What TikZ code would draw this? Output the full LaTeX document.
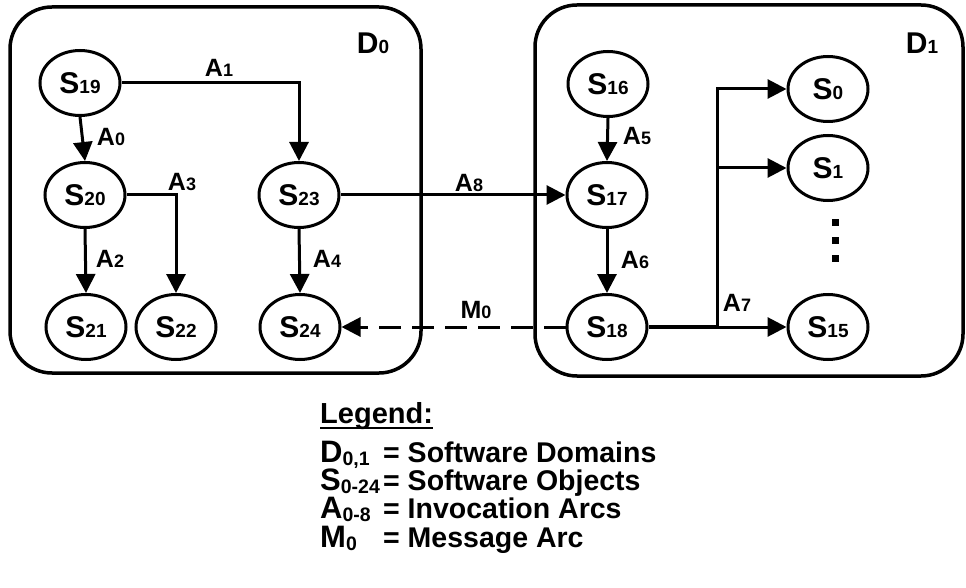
\documentclass[tikz,border=0pt]{standalone}
\usepackage{fontspec}
\setmainfont{Liberation Sans}
\usetikzlibrary{shapes.geometric,arrows.meta}
\newcommand\snode[2]{{\fontsize{30}{30}\selectfont #1}{\fontsize{19}{19}\selectfont #2}}
\newcommand\alab[2]{{\fontsize{25}{25}\selectfont #1}{\fontsize{18}{18}\selectfont #2}}
\newcommand\legline[3]{\makebox[63pt][l]{{\fontsize{31}{31}\selectfont #1}\raisebox{-3.5pt}{\fontsize{19.5}{19.5}\selectfont #2}}{\fontsize{28.5}{28.5}\selectfont #3}}
\tikzset{
  obj/.style={ellipse, draw, line width=3pt, minimum width=80pt, minimum height=65pt, inner sep=0pt, font=\bfseries},
  arc/.style={line width=3pt, -{Triangle[length=19pt,width=19pt]}},
  dom/.style={draw, line width=3.5pt, rounded corners=42pt, rectangle, inner sep=0pt},
  lbl/.style={font=\bfseries, inner sep=0pt},
  leg/.style={font=\bfseries, inner sep=0pt, anchor=base west},
  dotsq/.style={fill, minimum size=7pt, inner sep=0pt}
}
\begin{document}
\begin{tikzpicture}[x=1pt,y=-1pt]
\useasboundingbox (0,0) rectangle (966,588);
% domains
\node[dom, minimum width=411pt, minimum height=366pt] (d0) at (215.5,190) {};
\node[dom, minimum width=428pt, minimum height=371pt] (d1) at (749,190.5) {};
\node[lbl] (d0lab) at (373,43) {\snode{D}{0}};
\node[lbl] (d1lab) at (922,43) {\snode{D}{1}};
% objects
\node[obj] (S19) at (80,83) {\snode{S}{19}};
\node[obj] (S20) at (85,195) {\snode{S}{20}};
\node[obj] (S21) at (86,327) {\snode{S}{21}};
\node[obj] (S22) at (176,327) {\snode{S}{22}};
\node[obj] (S23) at (299,195) {\snode{S}{23}};
\node[obj] (S24) at (300,327) {\snode{S}{24}};
\node[obj] (S16) at (608,84) {\snode{S}{16}};
\node[obj] (S17) at (607,195) {\snode{S}{17}};
\node[obj] (S18) at (607,327) {\snode{S}{18}};
\node[obj] (S0) at (828,89) {\snode{S}{0}};
\node[obj] (S1) at (828,168) {\snode{S}{1}};
\node[obj] (S15) at (828,327) {\snode{S}{15}};
\node[dotsq] (dot1) at (835,222) {};
\node[dotsq] (dot2) at (835,240) {};
\node[dotsq] (dot3) at (835,258) {};
% arcs
\draw[arc] (S19.east) -| (S23.north);
\draw[arc] (S19.south) -- (S20.north);
\draw[arc] (S20.south) -- (S21.north);
\draw[arc] (S20.east) -| (S22.north);
\draw[arc] (S23.south) -- (S24.north);
\draw[arc] (S23.east) -- (S17.west);
\draw[arc] (S16.south) -- (S17.north);
\draw[arc] (S17.south) -- (S18.north);
\draw[arc, dash pattern=on 22pt off 11pt] (S18.west) -- (S24.east);
\coordinate (bus) at (717,327);
\draw[line width=4pt] (S18.east) -- (bus);
\draw[arc] (bus) -- (S15.west);
\draw[arc] (bus) |- (S0.west);
\draw[arc] (bus) |- (S1.west);
% arc labels
\node[lbl] (a1) at (219,68) {\alab{A}{1}};
\node[lbl] (a0) at (111,137) {\alab{A}{0}};
\node[lbl] (a3) at (182,182) {\alab{A}{3}};
\node[lbl] (a2) at (110,259) {\alab{A}{2}};
\node[lbl] (a4) at (327,259) {\alab{A}{4}};
\node[lbl] (a8) at (469,183) {\alab{A}{8}};
\node[lbl] (m0) at (476,310) {\alab{M}{0}};
\node[lbl] (a5) at (637,136) {\alab{A}{5}};
\node[lbl] (a6) at (635,260) {\alab{A}{6}};
\node[lbl] (a7) at (737,303) {\alab{A}{7}};
% legend
\node[leg] (legtitle) at (320,423) {\fontsize{29}{29}\selectfont Legend:};
\draw[line width=2.5pt] ([yshift=-5pt]legtitle.base west) -- ([yshift=-5pt]legtitle.base east);
\node[leg] (leg1) at (320,462) {\legline{D}{0,1}{= Software Domains}};
\node[leg] (leg2) at (320,490) {\legline{S}{0-24}{= Software Objects}};
\node[leg] (leg3) at (320,518) {\legline{A}{0-8}{= Invocation Arcs}};
\node[leg] (leg4) at (320,547) {\legline{M}{0}{= Message Arc}};
\end{tikzpicture}
\end{document}
